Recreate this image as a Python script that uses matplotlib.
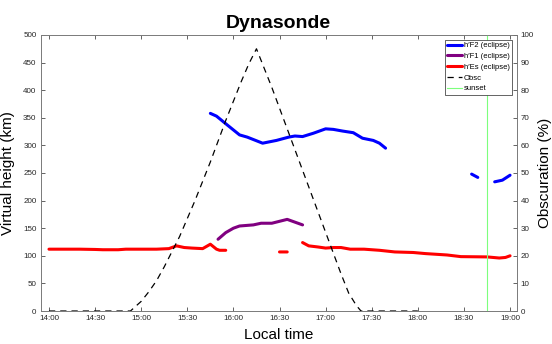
import matplotlib
matplotlib.use("Agg")
import matplotlib.pyplot as plt
import numpy as np

# h'F2 (eclipse) - three pieces, NaN between them
f2_times = ["15:45", "15:49", "15:56", "16:04", "16:09", "16:19", "16:28", "16:36",
            "16:40", "16:45", "16:52", "17:00", "17:05", "17:11", "17:18", "17:24",
            "17:31", "17:35", "17:39", None,
            "18:35", "18:39", None,
            "18:50", "18:55", "19:00"]
f2_height = [358, 353, 337, 319, 315, 304, 309, 315,
             317, 316, 322, 330, 329, 326, 323, 313,
             309, 304, 295, None,
             248, 242, None,
             234, 237, 246]

# h'F1 (eclipse)
f1_times = ["15:50", "15:55", "16:00", "16:04", "16:13", "16:18", "16:25", "16:35", "16:39", "16:45"]
f1_height = [130, 142, 150, 154, 156, 159, 159, 166, 162, 156]

# h'Es (eclipse)
es_times = ["14:00", "14:10", "14:20", "14:30", "14:35", "14:45", "14:50", "15:00", "15:10",
            "15:18", "15:23", "15:28", "15:33", "15:40", "15:45", "15:49", "15:51", "15:55", None,
            "16:30", "16:35", None,
            "16:45", "16:49", "16:55", "17:00", "17:05", "17:10", "17:16", "17:25", "17:35",
            "17:45", "17:57", "18:05", "18:19", "18:28", "18:45", "18:53", "18:57", "19:00"]
es_height = [112, 112, 112, 111.5, 111, 111, 112, 112, 112,
             113, 118, 115, 114, 113, 121, 112, 110, 110, None,
             107, 107, None,
             124, 118, 116, 114, 115, 115, 112, 112, 110,
             107, 106, 104, 101.5, 98.5, 98, 96, 97, 100]

# eclipse obscuration (%)
obsc_times = ["14:00", "14:30", "14:53", "15:00", "15:05", "15:10", "15:15", "15:20", "15:25",
              "15:30", "15:35", "15:40", "15:45", "15:50", "15:55", "16:00", "16:05", "16:10",
              "16:15", "16:20", "16:25", "16:30", "16:35", "16:40", "16:45", "16:50", "16:55",
              "17:00", "17:05", "17:10", "17:15", "17:20", "17:23", "17:40", "18:00"]
obsc_pct = [0, 0, 0, 3.5, 7, 11, 16, 21.5, 27,
            33.5, 40, 47, 54, 61.5, 69, 76, 83, 89.5,
            95, 88, 81, 73.5, 66, 58.5, 51, 43.5, 36,
            28.5, 21, 13.5, 6.5, 2, 0, 0, 0]

sunset_time = "18:45"

xtick_labels = ["14:00", "14:30", "15:00", "15:30", "16:00", "16:30",
                "17:00", "17:30", "18:00", "18:30", "19:00"]

legend_labels = ["h\u2032F2 (eclipse)", "h\u2032F1 (eclipse)", "h\u2032Es (eclipse)",
                 "Obsc", "sunset"]


def to_hours(t):
    if t is None:
        return np.nan
    h, m = t.split(":")
    return int(h) + int(m) / 60.0


def series(times, values):
    x = np.array([to_hours(t) for t in times])
    y = np.array([np.nan if v is None else v for v in values], dtype=float)
    return x, y


plt.rcParams["font.family"] = ["Liberation Sans", "DejaVu Sans"]
axis_color = "#262626"

fig = plt.figure(figsize=(5.52, 3.44), dpi=100)
ax = fig.add_axes([0.0737, 0.0959, 0.862, 0.8024])
ax2 = ax.twinx()

x, y = series(f2_times, f2_height)
l_f2, = ax.plot(x, y, color="#0000ff", lw=2.2, solid_capstyle="round")
x, y = series(f1_times, f1_height)
l_f1, = ax.plot(x, y, color="#800080", lw=2.2, solid_capstyle="round")
x, y = series(es_times, es_height)
l_es, = ax.plot(x, y, color="#ff0000", lw=2.2, solid_capstyle="round")

x, y = series(obsc_times, obsc_pct)
l_obsc, = ax2.plot(x, y, color="black", lw=0.9, dashes=(5, 4))
l_sun = ax2.axvline(to_hours(sunset_time), color="#7dff7d", lw=0.8)

ax.set_xlim(13.91, 19.07)
ax.set_ylim(0, 500)
ax2.set_ylim(0, 100)
ax.set_xticks([to_hours(t) for t in xtick_labels])
ax.set_xticklabels(xtick_labels)
ax.set_yticks(np.arange(0, 501, 50))
ax2.set_yticks(np.arange(0, 101, 10))

for a in (ax, ax2):
    a.tick_params(direction="in", length=3, width=0.5, labelsize=5.8,
                  colors=axis_color, pad=3)
    for s in a.spines.values():
        s.set_color("#7a7a7a")
        s.set_linewidth(0.6)
ax.tick_params(axis="x", top=True)

ax.set_title("Dynasonde", fontsize=14, fontweight="bold", pad=5)
ax.set_xlabel("Local time", fontsize=11, labelpad=4)
ax.set_ylabel("Virtual height (km)", fontsize=11, labelpad=6)
ax2.set_ylabel("Obscuration (%)", fontsize=11, labelpad=3)

leg = ax2.legend([l_f2, l_f1, l_es, l_obsc, l_sun], legend_labels,
                 loc="upper right", fontsize=5.5, handlelength=2.0, handletextpad=0.2,
                 labelspacing=0.45, borderpad=0.3, borderaxespad=0.6,
                 frameon=True, fancybox=False, framealpha=1)
leg.get_frame().set_edgecolor("#262626")
leg.get_frame().set_linewidth(0.5)

fig.savefig("out.png", dpi=100)
